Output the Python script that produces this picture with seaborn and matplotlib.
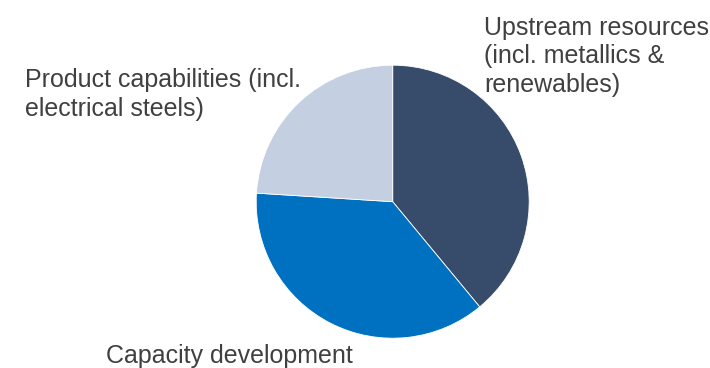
import matplotlib
matplotlib.use("Agg")
import matplotlib.pyplot as plt
import seaborn as sns

# Investment focus areas and their shares (%)
categories = [
    "Upstream resources\n(incl. metallics &\nrenewables)",
    "Capacity development",
    "Product capabilities (incl.\nelectrical steels)",
]
shares = [39, 37, 24]
colors = ["#374B6A", "#0070C0", "#C4CFE1"]

# label anchor points (left edge, top of text) in figure pixels
label_x = [484, 106, 25]
label_y = [15.5, 344.5, 68.5]

sns.set_theme(style="white")
plt.rcParams["font.family"] = ["Liberation Sans", "DejaVu Sans"]

W, H = 710, 368
fig = plt.figure(figsize=(W / 100, H / 100), dpi=100)
ax = fig.add_axes([0, 0, 1, 1])

ax.pie(
    shares,
    colors=colors,
    startangle=90,
    counterclock=False,
    center=(392.7, H - 201.7),
    radius=136.5,
    wedgeprops=dict(linewidth=0.6, edgecolor="white"),
    frame=True,
)
ax.set_xlim(0, W)
ax.set_ylim(0, H)
ax.set_aspect("equal")
ax.axis("off")

for text, x, y in zip(categories, label_x, label_y):
    fig.text(x / W, 1 - y / H, text, ha="left", va="top",
             fontsize=18, color="#404040", linespacing=1.26)

fig.savefig("out.png", dpi=100)
